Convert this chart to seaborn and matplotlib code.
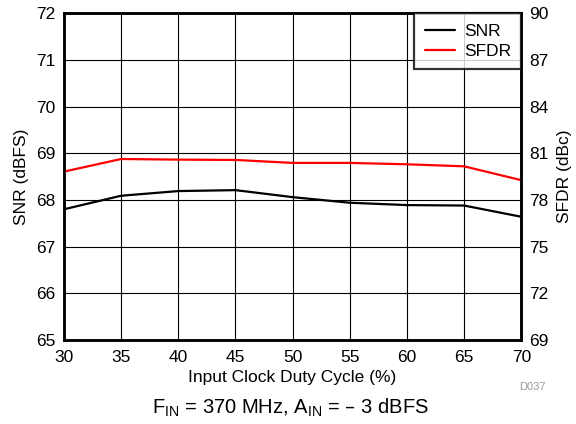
import numpy as np
import pandas as pd
import matplotlib
matplotlib.use('Agg')
import matplotlib.pyplot as plt
import seaborn as sns

# datos
duty_cycle = [30, 35, 40, 45, 50, 55, 60, 65, 70]
snr = [67.80, 68.09, 68.19, 68.21, 68.06, 67.94, 67.89, 67.88, 67.64]
sfdr = [79.82, 80.63, 80.59, 80.57, 80.38, 80.38, 80.29, 80.16, 79.27]

df = pd.DataFrame({'duty': duty_cycle, 'snr': snr, 'sfdr': sfdr})

sns.set_style('white')
plt.rcParams['font.family'] = ['Liberation Sans', 'DejaVu Sans']
plt.rcParams['text.color'] = 'black'
plt.rcParams['axes.labelcolor'] = 'black'

fs = 12.5
fig = plt.figure(figsize=(5.76, 4.24), dpi=100)
ax = fig.add_axes([0.111, 0.198, 0.794, 0.771])
ax2 = ax.twinx()

sns.lineplot(data=df, x='duty', y='snr', ax=ax, color='black', lw=1.6, label='SNR', legend=False)
sns.lineplot(data=df, x='duty', y='sfdr', ax=ax2, color='red', lw=1.6, label='SFDR', legend=False)

ax.set_xlim(30, 70)
ax.set_ylim(65, 72)
ax2.set_ylim(69, 90)
ax.set_xticks(np.arange(30, 71, 5))
ax.set_yticks(np.arange(65, 73, 1))
ax2.set_yticks(np.arange(69, 91, 3))

ax.grid(True, color='black', lw=0.8)
ax.set_axisbelow(True)
for a in (ax, ax2):
    for s in a.spines.values():
        s.set_linewidth(1.8)
        s.set_color('black')
    a.tick_params(length=0, labelsize=fs, colors='black')
ax.tick_params(axis='y', pad=6)
ax2.tick_params(axis='y', pad=6)
ax.tick_params(axis='x', pad=7)

ax.set_xlabel('Input Clock Duty Cycle (%)', fontsize=fs, labelpad=4)
ax.set_ylabel('SNR (dBFS)', fontsize=fs, labelpad=5)
ax2.set_ylabel('SFDR (dBc)', fontsize=fs, labelpad=6)

h1, l1 = ax.get_legend_handles_labels()
h2, l2 = ax2.get_legend_handles_labels()
leg = ax2.legend(h1 + h2, l1 + l2, loc='upper right', fontsize=fs, frameon=True,
                 fancybox=False, borderaxespad=0, handlelength=1.75,
                 handletextpad=0.5, borderpad=0.6, labelspacing=0.3)
leg.get_frame().set_edgecolor('black')
leg.get_frame().set_linewidth(1.6)

fig.text(0.948, 0.087, 'D037', fontsize=8, color='#999999', ha='right', va='center')
fig.text(0.505, 0.038, 'F$_{\\mathregular{IN}}$ = 370 MHz, A$_{\\mathregular{IN}}$ = \u2013 3 dBFS',
         fontsize=14.5, ha='center', va='center')

fig.savefig('out.png', dpi=100)
